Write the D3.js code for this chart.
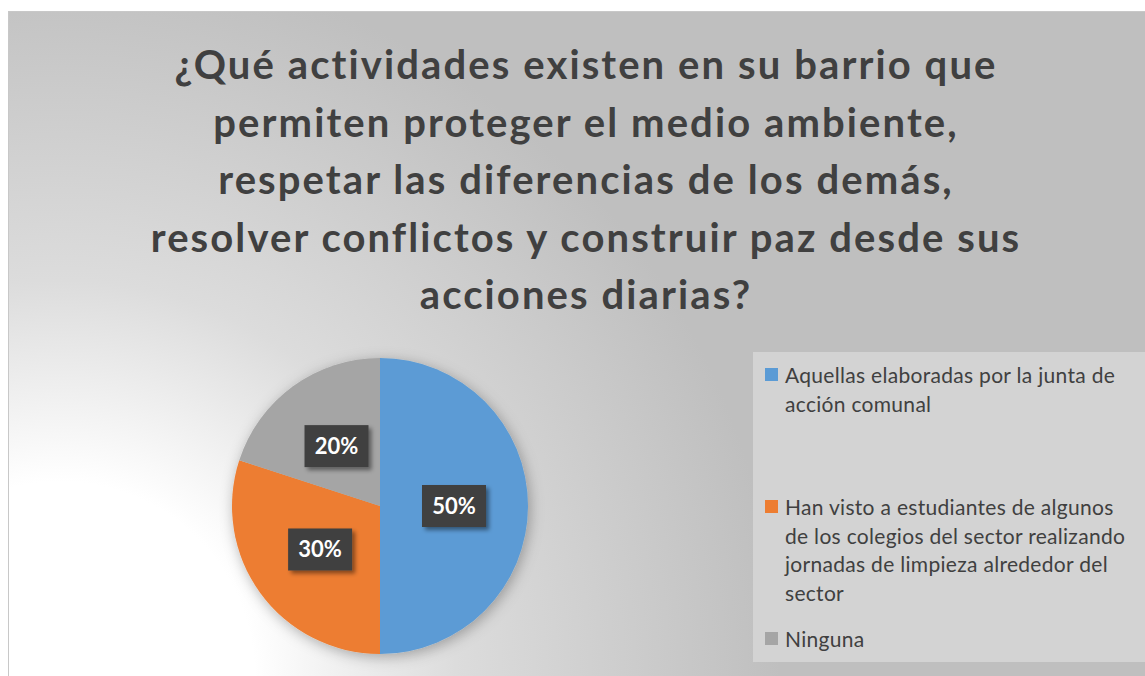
<!DOCTYPE html>
<html>
<head>
<meta charset="utf-8">
<script src="https://d3js.org/d3.v7.min.js"></script>
<style>
	body { margin: 0; background: #fff; }
	svg { display: block; }
</style>
</head>
<body>
<svg id="chart" width="1145" height="676"></svg>
<script>
// chart data
var titleLines = [
	"¿Qué actividades existen en su barrio que",
	"permiten proteger el medio ambiente,",
	"respetar las diferencias de los demás,",
	"resolver conflictos y construir paz desde sus",
	"acciones diarias?"
];
var categories = [
	"Aquellas elaboradas por la junta de acción comunal",
	"Han visto a estudiantes de algunos de los colegios del sector realizando jornadas de limpieza alrededor del sector",
	"Ninguna"
];
var values = [50, 30, 20];
var colors = ["#5b9bd5", "#ed7d31", "#a5a5a5"];

var W = 1145, H = 676;
var svg = d3.select("#chart");
var defs = svg.append("defs");

// background gradient, light in the bottom left corner
var grad = defs.append("radialGradient")
	.attr("id", "bg")
	.attr("gradientUnits", "userSpaceOnUse")
	.attr("cx", 60).attr("cy", 676).attr("r", 720);
grad.append("stop").attr("offset", 0).attr("stop-color", "#ffffff");
grad.append("stop").attr("offset", 0.27).attr("stop-color", "#ffffff");
grad.append("stop").attr("offset", 0.55).attr("stop-color", "#dcdcdc");
grad.append("stop").attr("offset", 1).attr("stop-color", "#bfbfbf");

var pieShadow = defs.append("filter").attr("id", "pieShadow")
	.attr("x", "-20%").attr("y", "-20%").attr("width", "140%").attr("height", "140%");
pieShadow.append("feDropShadow")
	.attr("dx", 2).attr("dy", 3).attr("stdDeviation", 7)
	.attr("flood-color", "#000").attr("flood-opacity", 0.3);

var boxShadow = defs.append("filter").attr("id", "boxShadow")
	.attr("x", "-20%").attr("y", "-30%").attr("width", "150%").attr("height", "170%");
boxShadow.append("feDropShadow")
	.attr("dx", 3).attr("dy", 3).attr("stdDeviation", 2)
	.attr("flood-color", "#000").attr("flood-opacity", 0.45);

svg.append("rect")
	.attr("x", 8.5).attr("y", 11.5)
	.attr("width", W).attr("height", H)
	.attr("fill", "url(#bg)")
	.attr("stroke", "#c8c8c8").attr("stroke-width", 1);

/////////////////////
// Title
/////////////////////
var title = svg.append("text")
	.attr("text-anchor", "middle")
	.style("font-family", "Lato, 'Open Sans', sans-serif")
	.style("font-weight", "bold")
	.style("font-size", "40px")
	.style("letter-spacing", "2.1px")
	.attr("fill", "#404040");
title.selectAll("tspan").data(titleLines).enter().append("tspan")
	.attr("x", 586)
	.attr("y", function(d, i) { return 79 + i * 57.5; })
	.text(function(d) { return d; });

/////////////////////
// Pie
/////////////////////
var cx = 380, cy = 506, radius = 148;
var pie = d3.pie().sort(null).value(function(d) { return d; });
var arc = d3.arc().innerRadius(0).outerRadius(radius);
var color = d3.scaleOrdinal().domain(categories).range(colors);
var slices = pie(values);
var total = d3.sum(values);

var g = svg.append("g").attr("transform", "translate(" + cx + "," + cy + ")");
g.append("g").attr("filter", "url(#pieShadow)")
	.selectAll("path").data(slices).enter().append("path")
	.attr("d", arc)
	.attr("fill", function(d, i) { return color(categories[i]); });

var labels = g.selectAll("g.lbl").data(slices).enter().append("g")
	.attr("class", "lbl")
	.attr("transform", function(d) { return "translate(" + arc.centroid(d) + ")"; });
labels.append("rect")
	.attr("x", -32).attr("y", -21).attr("width", 64).attr("height", 42)
	.attr("fill", "#404040")
	.attr("filter", "url(#boxShadow)");
labels.append("text")
	.attr("text-anchor", "middle")
	.attr("dy", "0.36em")
	.style("font-family", "Lato, 'Open Sans', sans-serif")
	.style("font-weight", "bold")
	.style("font-size", "22px")
	.attr("fill", "#ffffff")
	.text(function(d) { return Math.round(d.value / total * 100) + "%"; });

/////////////////////
// Legend
/////////////////////
var legX = 753, legY = 352;
svg.append("rect")
	.attr("x", legX).attr("y", legY)
	.attr("width", W - legX + 10).attr("height", 310)
	.attr("fill", "#d3d3d3");

var itemY = d3.scalePoint().domain(categories).range([367, 631]);
var lineH = 28.7, maxW = 346;

var items = svg.selectAll("g.leg").data(categories).enter().append("g")
	.attr("class", "leg")
	.attr("transform", function(d) { return "translate(765," + itemY(d) + ")"; });
items.append("rect")
	.attr("x", 0).attr("y", 1).attr("width", 13).attr("height", 13)
	.attr("fill", function(d) { return color(d); });
items.each(function(d) {
	var t = d3.select(this).append("text")
		.attr("x", 20)
		.style("font-family", "Lato, 'Open Sans', sans-serif")
		.style("font-size", "21px")
		.style("letter-spacing", "0.3px")
		.attr("fill", "#404040");
	// wrap words by measured width
	var words = d.split(" "), line = [], n = 0;
	var tspan = t.append("tspan").attr("x", 20).attr("y", 16);
	words.forEach(function(w) {
		line.push(w);
		tspan.text(line.join(" "));
		if (tspan.node().getComputedTextLength() > maxW && line.length > 1) {
			line.pop();
			tspan.text(line.join(" "));
			line = [w];
			n++;
			tspan = t.append("tspan").attr("x", 20).attr("y", 16 + n * lineH).text(w);
		}
	});
});
</script>
</body>
</html>
